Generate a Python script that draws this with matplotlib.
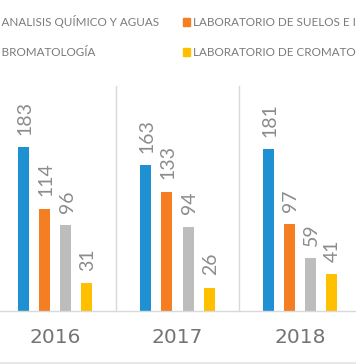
import matplotlib
matplotlib.use("Agg")
import matplotlib.pyplot as plt
from matplotlib.lines import Line2D
from matplotlib.patches import Rectangle
import numpy as np

# data
years = ["2016", "2017", "2018"]
labs = [
    "LABORATORIO DE ANALISIS QUÍMICO Y AGUAS",
    "LABORATORIO DE SUELOS E INSUMOS",
    "LABORATORIO DE BROMATOLOGÍA",
    "LABORATORIO DE CROMATOGRAFÍA",
]
analisis = [183, 163, 181]
suelos = [114, 133, 97]
bromatologia = [96, 94, 59]
cromatografia = [31, 26, 41]
series = [analisis, suelos, bromatologia, cromatografia]
colors = ["#1f91d3", "#f57d22", "#bdbdbd", "#ffc000"]

W, H = 356, 364
plt.rcParams["font.family"] = ["Lato", "DejaVu Sans"]
fig = plt.figure(figsize=(W / 100, H / 100), dpi=100)

# axes run a little past the image edges, like the cropped original
px_per_unit = 0.895
ymax = 200
ax = fig.add_axes([-6 / W, (H - 311) / H, 367 / W, ymax * px_per_unit / H])
ax.set_xlim(-0.5, 2.5)
ax.set_ylim(0, ymax)
ax.axis("off")

x = np.arange(len(years))
step = 21 / 122.3
width = 11 / 122.3
for i, (vals, c) in enumerate(zip(series, colors)):
    xs = x + (i - 1.5) * step
    ax.bar(xs, vals, width, color=c, zorder=2)
    for xi, v in zip(xs, vals):
        ax.annotate(str(v), (xi, v), xytext=(1, 9), textcoords="offset points",
                    rotation=90, ha="center", va="bottom", fontsize=14,
                    color="#8c8c8c", annotation_clip=False)

# baseline and group separators
ax.axhline(0, color="#d9d9d9", lw=1, clip_on=False)
for s in [0.5, 1.5]:
    ax.plot([s, s], [0, 251], color="#d9d9d9", lw=1, clip_on=False)

for xi, y in zip(x, years):
    ax.text(xi, -30, y, ha="center", va="center", fontsize=14.5,
            color="#747474", family=["DejaVu Sans"], transform=ax.transData)

# legend drawn by hand so the cut-off left column can sit off-canvas
fs = 8.4
r = fig.canvas.get_renderer()
t = fig.text(0, 0, "LABORATORIO DE ", fontsize=fs)
pre = t.get_window_extent(r).width
t.remove()
rows = [H - 22, H - 52]
cols = [1 - pre, 193]
for k, lab in enumerate(labs):
    cx = cols[k % 2]
    cy = rows[k // 2]
    fig.text(cx / W, cy / H, lab, fontsize=fs, color="#7a7a7a",
             ha="left", va="center")
    fig.patches.append(Rectangle(((cx - 10) / W, (cy - 3.5) / H), 7 / W, 7 / H,
                                 transform=fig.transFigure, color=colors[k]))

fig.lines.append(Line2D([0, 1], [1.5 / H, 1.5 / H], transform=fig.transFigure,
                        color="#e6e6e6", lw=2))

fig.savefig("out.png", dpi=100)
